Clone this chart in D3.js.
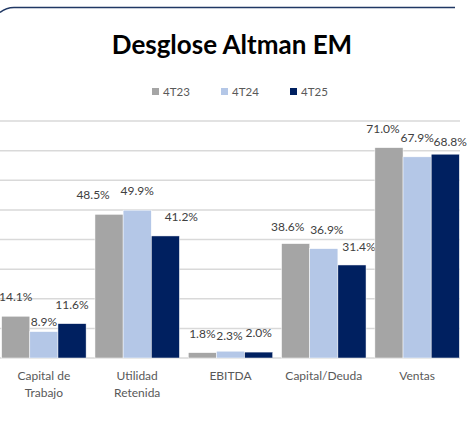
<!DOCTYPE html>
<html>
<head>
<meta charset="utf-8">
<script src="https://cdn.jsdelivr.net/npm/d3@7"></script>
<style>
  body { margin: 0; background: #fff; overflow: hidden; }
  svg { display: block; overflow: hidden; font-family: Lato, "Open Sans", sans-serif; }
</style>
</head>
<body>
<div id="chart"></div>
<script>
var categories = [["Capital de", "Trabajo"], ["Utilidad", "Retenida"], ["EBITDA"], ["Capital/Deuda"], ["Ventas"]];
var seriesNames = ["4T23", "4T24", "4T25"];
var values4T23 = [14.1, 48.5, 1.8, 38.6, 71.0];
var values4T24 = [8.9, 49.9, 2.3, 36.9, 67.9];
var values4T25 = [11.6, 41.2, 2.0, 31.4, 68.8];
var yTicks = [0, 10, 20, 30, 40, 50, 60, 70, 80];
var colors = ["#a5a5a5", "#b4c7e7", "#002060"];

// label nudges (dx, dy) so the data labels don't pile up, like excel does
var labelNudge = [
    [[0, 0], [0, 9], [0, 0]],
    [[-16, 0], [0, 0], [16, 0]],
    [[0, 0], [-1, 4], [0, 0]],
    [[-8, 2], [3, 0], [7, 1]],
    [[-6, 0], [0, 0], [5, 7]]
];

var W = 472, H = 424;
var margin = {top: 121, right: 8, bottom: 66, left: -3};
var width = W - margin.left - margin.right,
    height = H - margin.top - margin.bottom;

var svg = d3.select("#chart")
    .append("svg")
        .attr("width", W)
        .attr("height", H);

// rounded frame: top-left corner and top edge
var r = 22;
var aL = Math.acos(-14 / r);
var frame = d3.path();
frame.arc(14, 7.5 + r, r, -aL, -Math.PI / 2);
frame.lineTo(455, 7.5);

svg.append("path")
    .attr("d", frame.toString())
    .attr("fill", "none")
    .attr("stroke", "#203864")
    .attr("stroke-width", 1.5);

svg.append("text")
    .attr("x", 232)
    .attr("y", 54)
    .attr("text-anchor", "middle")
    .style("font-size", "26px")
    .style("font-weight", "bold")
    .attr("fill", "#000")
    .text("Desglose Altman EM");

// legend
var legendX = [152, 221, 290];
var legend = svg.append("g");
seriesNames.forEach(function(name, i) {
    legend.append("rect")
        .attr("x", legendX[i])
        .attr("y", 88)
        .attr("width", 7)
        .attr("height", 7)
        .attr("fill", colors[i]);
    legend.append("text")
        .attr("x", legendX[i] + 11)
        .attr("y", 96)
        .style("font-size", "11.5px")
        .attr("fill", "#595959")
        .text(name);
});

var g = svg.append("g")
    .attr("transform", "translate(" + margin.left + "," + margin.top + ")");

var x = d3.scaleBand()
    .domain(d3.range(categories.length))
    .range([0, width])
    .paddingInner(0.095)
    .paddingOuter(0.05);

var xs = d3.scaleBand()
    .domain(seriesNames)
    .range([0, x.bandwidth()]);

var y = d3.scaleLinear()
    .domain([0, 80])
    .range([height, 0]);

// gridlines
g.append("g")
    .selectAll("line")
    .data(yTicks)
    .enter()
    .append("line")
        .attr("x1", 3)
        .attr("x2", width - 4)
        .attr("y1", function(d) { return y(d); })
        .attr("y2", function(d) { return y(d); })
        .attr("stroke", "#d9d9d9")
        .attr("stroke-width", 1.5);

var table = categories.map(function(c, i) {
    return [values4T23[i], values4T24[i], values4T25[i]];
});

var groups = g.selectAll(".grp")
    .data(table)
    .enter()
    .append("g")
        .attr("class", "grp")
        .attr("transform", function(d, i) { return "translate(" + x(i) + ",0)"; });

groups.selectAll("rect")
    .data(function(d) { return d; })
    .enter()
    .append("rect")
        .attr("x", function(d, j) { return xs(seriesNames[j]); })
        .attr("y", function(d) { return y(d); })
        .attr("width", xs.bandwidth())
        .attr("height", function(d) { return y(0) - y(d); })
        .attr("fill", function(d, j) { return colors[j]; })
        .attr("stroke", "#fff")
        .attr("stroke-width", 0.5);

groups.each(function(row, i) {
    d3.select(this).selectAll(".lbl")
        .data(row)
        .enter()
        .append("text")
            .attr("class", "lbl")
            .attr("x", function(d, j) { return xs(seriesNames[j]) + xs.bandwidth() / 2 + labelNudge[i][j][0]; })
            .attr("y", function(d, j) { return y(d) - 15 + labelNudge[i][j][1]; })
            .attr("text-anchor", "middle")
            .style("font-size", "12px")
            .attr("fill", "#404040")
            .text(function(d) { return d.toFixed(1) + "%"; });
});

// category labels
var cat = g.append("g")
    .selectAll("text")
    .data(categories)
    .enter()
    .append("text")
        .attr("x", function(d, i) { return x(i) + x.bandwidth() / 2; })
        .attr("y", height + 22)
        .attr("text-anchor", "middle")
        .style("font-size", "12px")
        .attr("fill", "#595959");

cat.selectAll("tspan")
    .data(function(d) { return d; })
    .enter()
    .append("tspan")
        .attr("x", function() { return d3.select(this.parentNode).attr("x"); })
        .attr("dy", function(d, k) { return k === 0 ? 0 : 17; })
        .text(function(d) { return d; });
</script>
</body>
</html>
